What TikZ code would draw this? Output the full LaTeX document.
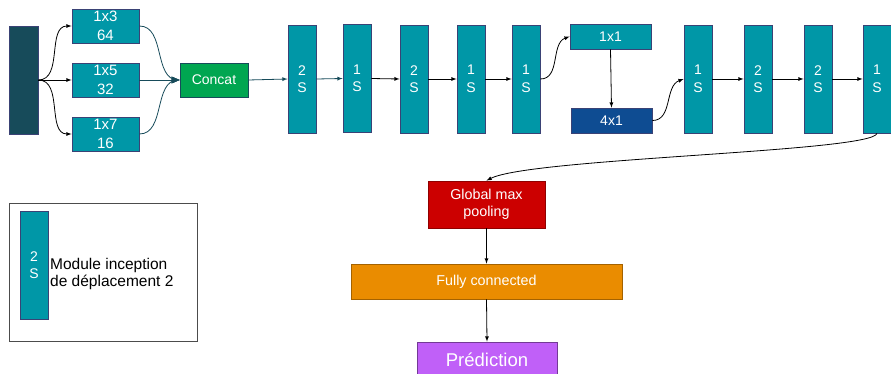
\documentclass[tikz,border=0pt]{standalone}
\usepackage{fontspec}
\setmainfont{Liberation Sans}
\usetikzlibrary{arrows,shapes}
\usetikzlibrary{positioning}
\definecolor{tl}{HTML}{0097A7}
\definecolor{dk}{HTML}{174B5A}
\definecolor{nv}{HTML}{3A4275}
\definecolor{bl}{HTML}{0E4C92}
\definecolor{gn}{HTML}{00A651}
\definecolor{rd}{HTML}{CC0000}
\definecolor{og}{HTML}{EA8C00}
\definecolor{pp}{HTML}{C060F8}
\tikzstyle{blk}=[draw=nv,fill=tl,text=white,inner sep=0pt,line width=0.8pt,
                align=center,font=\fontsize{14}{17.5}\selectfont]
\tikzstyle{mod}=[blk,minimum width=28pt,minimum height=108pt]
\tikzstyle{br}=[blk,minimum width=67pt,minimum height=34pt,font=\fontsize{15}{18.5}\selectfont]
\tikzstyle{line}=[draw,line width=0.8pt,->,>=latex]
\tikzstyle{dline}=[line,draw=dk]

\begin{document}
\begin{tikzpicture}[x=1pt,y=-1pt]
\useasboundingbox (0,0) rectangle (891,374);
\node [blk,fill=dk,minimum width=29pt,minimum height=108pt] (in) at (23.5,80) {};
\node [br] (b1) at (105.5,26) {1x3\\64};
\node [br] (b2) at (105.5,80) {1x5\\32};
\node [br] (b3) at (105.5,134) {1x7\\16};
\node [blk,draw=dk,fill=gn,minimum width=68pt,minimum height=34pt] (cat) at (214,80) {Concat};
\node [mod] (m1) at (302,79) {2\\S};
\node [mod] (m2) at (357,78.5) {1\\S};
\node [mod] (m3) at (414,79) {2\\S};
\node [mod] (m4) at (471,79) {1\\S};
\node [mod] (m5) at (526,79) {1\\S};
\node [blk,minimum width=81pt,minimum height=25pt] (one) at (610.5,36.5) {1x1};
\node [blk,fill=bl,minimum width=81pt,minimum height=25pt] (four) at (611.5,120.5) {4x1};
\node [mod] (m6) at (698,79) {1\\S};
\node [mod] (m7) at (758,79) {2\\S};
\node [mod] (m8) at (818,79) {2\\S};
\node [mod] (m9) at (877,79) {1\\S};
\node [blk,draw=rd!70!black,fill=rd,minimum width=117pt,minimum height=47pt,
      font=\fontsize{14.3}{17}\selectfont] (gmp) at (486.5,204.5) {Global max\\pooling};
\node [blk,draw=og!70!black,fill=og,minimum width=271pt,minimum height=35pt,
      font=\fontsize{14.3}{17}\selectfont] (fc) at (486.5,281.5) {Fully connected};
\node [blk,draw=pp!60!black,fill=pp,minimum width=140pt,minimum height=36pt,
      font=\fontsize{18.5}{20}\selectfont] (pred) at (487,360) {Prédiction};
\node [draw=black!70,line width=0.8pt,minimum width=188pt,minimum height=138pt] (leg) at (103,272) {};
\node [mod] (lm) at (34,265) {2\\S};
\node [anchor=west,inner sep=0pt,align=left,font=\fontsize{15.5}{17.7}\selectfont] (lt) at (50,274)
  {Module inception\\de déplacement 2};
\path [line] (in.east) to[out=0,in=180] (b1.west);
\path [line] (in.east) -- (b2.west);
\path [line] (in.east) to[out=0,in=180] (b3.west);
\path [dline,>=triangle 45] (b1.east) to[out=0,in=180] (cat.west);
\path [dline,>=triangle 45] (b2.east) -- (cat.west);
\path [dline,>=triangle 45] (b3.east) to[out=0,in=180] (cat.west);
\path [dline] (cat.east) -- (m1.west);
\path [dline] (m1.east) -- (m2.west);
\path [line] (m2.east) -- (m3.west);
\path [line] (m3.east) -- (m4.west);
\path [line] (m4.east) -- (m5.west);
\path [line] (m5.east) to[out=0,in=200] (one.west);
\path [line] (one.south) -- (four.north);
\path [line] (four.east) to[out=0,in=200] (m6.west);
\path [line] (m6.east) -- (m7.west);
\path [line] (m7.east) -- (m8.west);
\path [line] (m8.east) -- (m9.west);
\path [line] (m9.south) .. controls (872,152) and (530,158) .. (gmp.north);
\path [line] (gmp.south) -- (fc.north);
\path [line] (fc.south) -- (pred.north);
\end{tikzpicture}
\end{document}
